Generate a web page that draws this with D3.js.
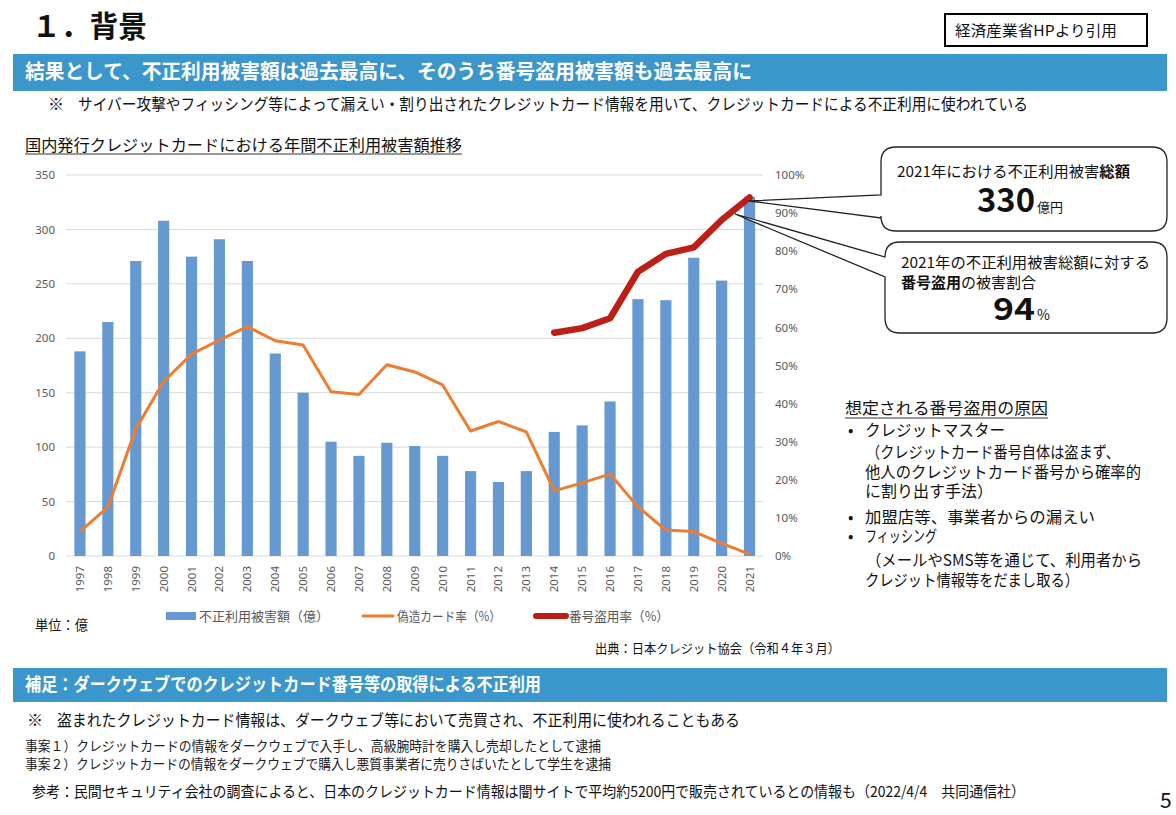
<!DOCTYPE html>
<html><head><meta charset="utf-8">
<script src="https://cdn.jsdelivr.net/npm/d3@7"></script>
<style>
html,body{margin:0;padding:0;background:#fff;}
svg{display:block;font-family:"Noto Sans CJK JP","Noto Sans",sans-serif;}
</style></head>
<body><svg id="c" width="1176" height="815"></svg>
<script>
const years = ["1997","1998","1999","2000","2001","2002","2003","2004","2005","2006","2007","2008","2009","2010","2011","2012","2013","2014","2015","2016","2017","2018","2019","2020","2021"];
const damage = [188,215,271,308,275,291,271,186,150,105,92,104,101,92,78,68,78,114,120,142,236,235,274,253,330];
const forgedRate = [6.4,12.8,33.3,45.8,53.0,56.7,60.2,56.5,55.4,43.1,42.4,50.2,48.3,44.9,32.8,35.3,32.6,17.1,19.2,21.5,12.9,6.8,6.4,3.3,0.5];
const theftYears = ["2014","2015","2016","2017","2018","2019","2020","2021"];
const theftRate = [58.6,59.8,62.4,74.6,79.3,81.0,88.2,94.1];
const leftTicks = [0,50,100,150,200,250,300,350];
const rightTicks = [0,10,20,30,40,50,60,70,80,90,100];
const legendLabels = ["不正利用被害額（億）","偽造カード率（%）","番号盗用率（%）"];

const svg = d3.select("#c");
const txt = "#262626", axisC = "#595959";
const barC = "#6699D1", orangeC = "#ED7D31", redC = "#BC1F16", bannerC = "#3A96CB";

function text(x,y,s,opt={}){
  const t = svg.append("text").attr("x",x).attr("y",y).text(s)
    .attr("fill",opt.fill||txt).attr("font-size",opt.size||14)
    .attr("font-weight",opt.weight||"normal");
  if(opt.anchor) t.attr("text-anchor",opt.anchor);
  if(opt.len) t.attr("textLength",opt.len).attr("lengthAdjust","spacingAndGlyphs");
  return t;
}

// Header
text(32,37,"１．背景",{size:30,weight:"bold",fill:"#111",len:115});
svg.append("rect").attr("x",945).attr("y",14).attr("width",202).attr("height",32).attr("fill","#fff").attr("stroke","#000").attr("stroke-width",2);
text(955,36,"経済産業省HPより引用",{size:15,fill:"#111",len:162});
svg.append("rect").attr("x",13).attr("y",54).attr("width",1154).attr("height",37).attr("fill",bannerC);
text(25,79,"結果として、不正利用被害額は過去最高に、そのうち番号盗用被害額も過去最高に",{size:20,weight:"bold",fill:"#fff",len:727});
text(48,110,"※",{size:16,fill:"#111"});
text(78,110,"サイバー攻撃やフィッシング等によって漏えい・割り出されたクレジットカード情報を用いて、クレジットカードによる不正利用に使われている",{size:16,fill:"#111",len:950});
text(25,151,"国内発行クレジットカードにおける年間不正利用被害額推移",{size:16,fill:"#111",len:437});
svg.append("line").attr("x1",25).attr("x2",462).attr("y1",154).attr("y2",154).attr("stroke","#333").attr("stroke-width",1.2);

// Chart
const x = d3.scaleBand().domain(years).range([66,763.5]).paddingInner(0.6).paddingOuter(0.3);
const yL = d3.scaleLinear().domain([0,350]).range([556,175]);
const yR = d3.scaleLinear().domain([0,100]).range([556,175]);

const g = svg.append("g");
g.selectAll("line.grid").data(leftTicks).join("line").attr("class","grid")
  .attr("x1",66).attr("x2",763).attr("y1",d=>yL(d)).attr("y2",d=>yL(d))
  .attr("stroke","#D9D9D9").attr("stroke-width",1);

const axL = d3.axisLeft(yL).tickValues(leftTicks).tickSize(0).tickPadding(0);
const gl = svg.append("g").attr("transform","translate(55,0)").call(axL);
gl.select(".domain").remove();
gl.selectAll("text").attr("fill",axisC).attr("font-size",11.5).attr("font-family","'Noto Sans','DejaVu Sans',sans-serif");

const axR = d3.axisRight(yR).tickValues(rightTicks).tickSize(0).tickPadding(0).tickFormat(d=>d+"%");
const gr = svg.append("g").attr("transform","translate(775,0)").call(axR);
gr.select(".domain").remove();
gr.selectAll("text").attr("fill",axisC).attr("font-size",11.5).attr("font-family","'Noto Sans','DejaVu Sans',sans-serif");

g.selectAll("rect.bar").data(years).join("rect").attr("class","bar")
  .attr("x",d=>x(d)).attr("width",x.bandwidth())
  .attr("y",(d,i)=>yL(damage[i])).attr("height",(d,i)=>yL(0)-yL(damage[i]))
  .attr("fill",barC);

const axB = d3.axisBottom(x).tickSize(0).tickPadding(0);
const gb = svg.append("g").attr("transform","translate(0,556)").call(axB);
gb.select(".domain").remove();
gb.selectAll("text").attr("fill",axisC).attr("font-size",11.5).attr("font-family","'Noto Sans','DejaVu Sans',sans-serif")
  .attr("transform","rotate(-90)").attr("text-anchor","end").attr("x",-10).attr("y",0).attr("dy","0.35em");

const cx = d=>x(d)+x.bandwidth()/2;
const line = d3.line();
g.append("path").attr("d",line(years.map((d,i)=>[cx(d),yR(forgedRate[i])])))
  .attr("fill","none").attr("stroke",orangeC).attr("stroke-width",3).attr("stroke-linejoin","round");
g.append("path").attr("d",line(theftYears.map((d,i)=>[cx(d),yR(theftRate[i])])))
  .attr("fill","none").attr("stroke",redC).attr("stroke-width",6.5).attr("stroke-linejoin","round").attr("stroke-linecap","round");

// Legend
const ly = 616;
svg.append("rect").attr("x",166).attr("y",ly-4).attr("width",30).attr("height",8).attr("fill",barC);
text(199,ly+5,legendLabels[0],{size:13,fill:axisC,len:130});
svg.append("line").attr("x1",363).attr("x2",393).attr("y1",ly).attr("y2",ly).attr("stroke",orangeC).attr("stroke-width",3).attr("stroke-linecap","round");
text(397,ly+5,legendLabels[1],{size:13,fill:axisC,len:104});
svg.append("line").attr("x1",536).attr("x2",566).attr("y1",ly).attr("y2",ly).attr("stroke",redC).attr("stroke-width",6).attr("stroke-linecap","round");
text(569,ly+5,legendLabels[2],{size:13,fill:axisC,len:100});

text(35,630,"単位：億",{size:14,fill:"#111",len:53});
text(595,653,"出典：日本クレジット協会（令和４年３月）",{size:13,fill:"#111",len:245});

// Callouts
function callout(x0,y0,x1,y1,r,pa,pb,tip){
  const p = `M${x0+r},${y0} H${x1-r} Q${x1},${y0} ${x1},${y0+r} V${y1-r} Q${x1},${y1} ${x1-r},${y1} H${x0+r} Q${x0},${y1} ${x0},${y1-r} V${pb} L${tip[0]},${tip[1]} L${x0},${pa} V${y0+r} Q${x0},${y0} ${x0+r},${y0} Z`;
  svg.append("path").attr("d",p).attr("fill","#fff").attr("stroke","#222").attr("stroke-width",1.3);
}
callout(881,147,1167,231,15,195,218,[749,201]);
callout(885,242,1167,333,15,257,277,[735,214]);

const t1 = svg.append("text").attr("x",897).attr("y",177).attr("font-size",15).attr("fill","#111").attr("textLength",233).attr("lengthAdjust","spacingAndGlyphs");
t1.append("tspan").text("2021年における不正利用被害");
t1.append("tspan").attr("font-weight","bold").text("総額");
text(977,212,"330",{size:33,weight:"bold",fill:"#111",len:58});
text(1037,212,"億円",{size:13,fill:"#111"});

const t2 = svg.append("text").attr("x",901).attr("y",268).attr("font-size",15).attr("fill","#111").attr("textLength",249).attr("lengthAdjust","spacingAndGlyphs");
t2.text("2021年の不正利用被害総額に対する");
const t3 = svg.append("text").attr("x",901).attr("y",288).attr("font-size",15).attr("fill","#111");
t3.append("tspan").attr("font-weight","bold").text("番号盗用");
t3.append("tspan").text("の被害割合");
text(993,320,"94",{size:31,weight:"bold",fill:"#111",len:42});
text(1037,320,"%",{size:14,fill:"#111"});

// Right notes
text(845,414,"想定される番号盗用の原因",{size:16,fill:"#111",len:203});
svg.append("line").attr("x1",845).attr("x2",1048).attr("y1",418).attr("y2",418).attr("stroke","#333").attr("stroke-width",1.2);
const notes = [
  [848,436,"•",null],[865,436,"クレジットマスター",140],
  [866,458,"（クレジットカード番号自体は盗まず、",254],
  [865,478,"他人のクレジットカード番号から確率的",276],
  [865,497,"に割り出す手法）",128],
  [848,523,"•",null],[865,523,"加盟店等、事業者からの漏えい",230],
  [848,542,"•",null],[865,542,"フィッシング",72],
  [866,566,"（メールやSMS等を通じて、利用者から",276],
  [865,586,"クレジット情報等をだまし取る）",214]
];
notes.forEach(n=>text(n[0],n[1],n[2],{size:16,fill:"#111",len:n[3]||undefined}));

// Bottom section
svg.append("rect").attr("x",13).attr("y",668).attr("width",1154).attr("height",34).attr("fill",bannerC);
text(25,691,"補足：ダークウェブでのクレジットカード番号等の取得による不正利用",{size:18,weight:"bold",fill:"#fff",len:516});
text(27,726,"※",{size:16,fill:"#111"});
text(57,726,"盗まれたクレジットカード情報は、ダークウェブ等において売買され、不正利用に使われることもある",{size:16,fill:"#111",len:683});
text(25,751,"事案１）クレジットカードの情報をダークウェブで入手し、高級腕時計を購入し売却したとして逮捕",{size:13.5,fill:"#222",len:576});
text(25,769,"事案２）クレジットカードの情報をダークウェブで購入し悪質事業者に売りさばいたとして学生を逮捕",{size:13.5,fill:"#222",len:586});
text(32,797,"参考：民間セキュリティ会社の調査によると、日本のクレジットカード情報は闇サイトで平均約5200円で販売されているとの情報も（2022/4/4　共同通信社）",{size:15,fill:"#111",len:993});
text(1160,808,"5",{size:21,fill:"#111"});
</script></body></html>
